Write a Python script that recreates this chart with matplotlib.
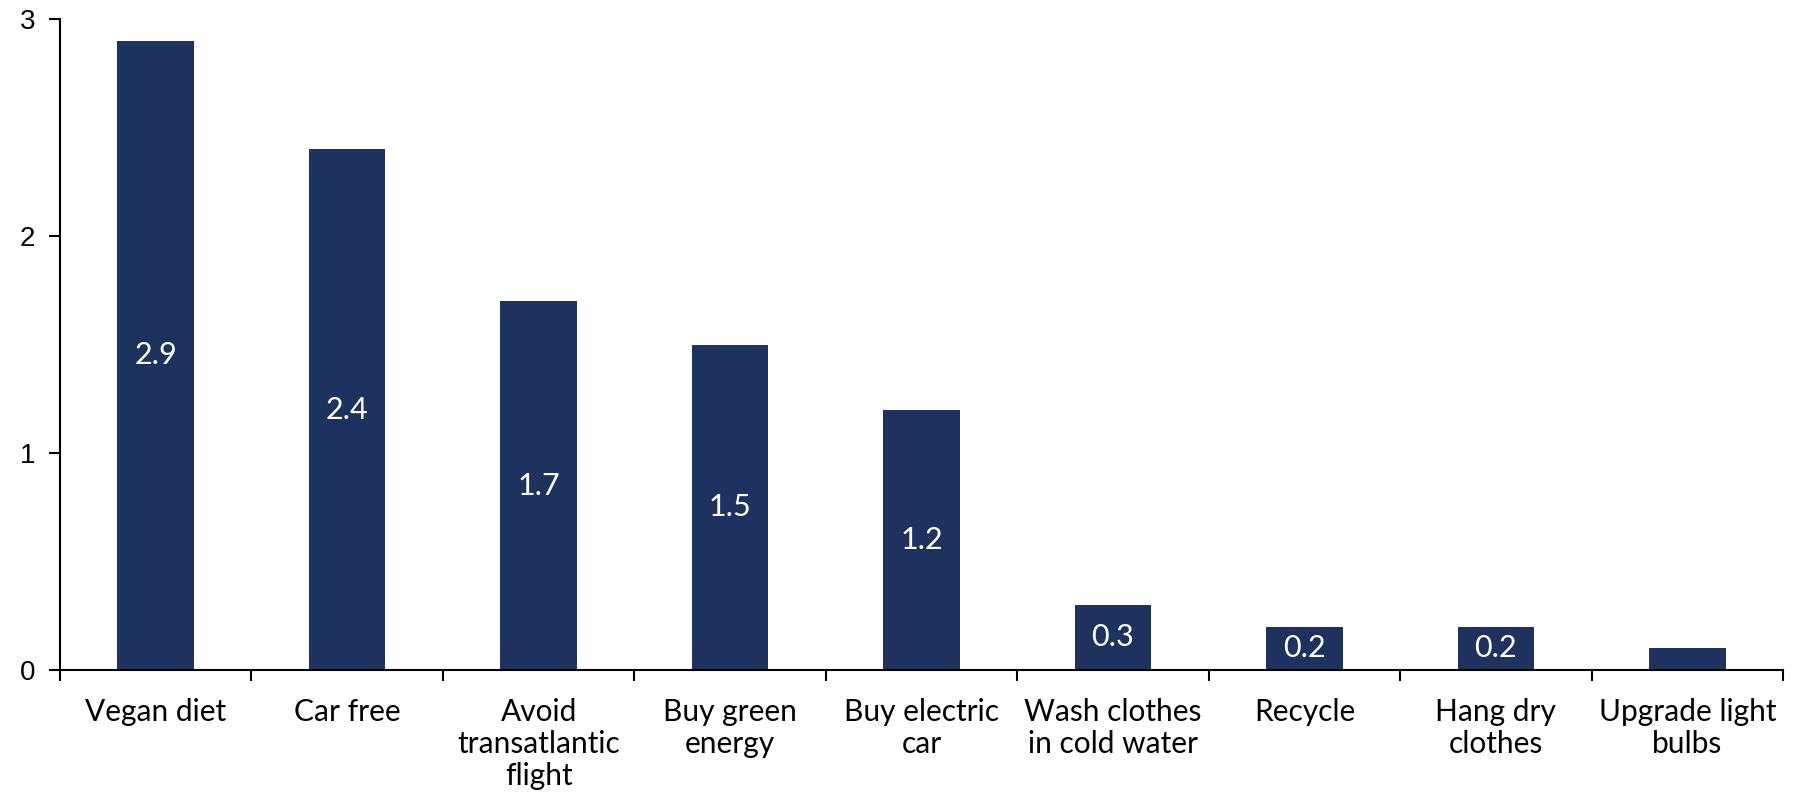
import numpy as np
import matplotlib
matplotlib.use('Agg')
import matplotlib.pyplot as plt
from matplotlib.ticker import FixedLocator

# 数据
categories = ['Vegan diet', 'Car free', 'Avoid\ntransatlantic\nflight',
              'Buy green\nenergy', 'Buy electric\ncar', 'Wash clothes\nin cold water',
              'Recycle', 'Hang dry\nclothes', 'Upgrade light\nbulbs']
values = [2.9, 2.4, 1.7, 1.5, 1.2, 0.3, 0.2, 0.2, 0.1]
value_labels = ['2.9', '2.4', '1.7', '1.5', '1.2', '0.3', '0.2', '0.2', '']
y_ticks = [0, 1, 2, 3]

BAR_COLOR = '#1D325E'

fig = plt.figure(figsize=(17.99, 7.98), dpi=100)
ax = fig.add_axes([60 / 1799, 128 / 798, 1723 / 1799, 651 / 798])

x = np.arange(len(categories))
bars = ax.bar(x, values, width=0.4, color=BAR_COLOR, zorder=2)

# 柱内数值
for xi, v, lab in zip(x, values, value_labels):
    if lab:
        ax.text(xi, v / 2, lab, ha='center', va='center', color='white',
                fontsize=22, family='Lato')

ax.set_xlim(-0.5, len(categories) - 0.5)
ax.set_ylim(0, 3)

# x 轴：标签居中，刻度在类别分界
ax.set_xticks(x)
ax.set_xticklabels(categories, family='Lato', fontsize=21.5, linespacing=1.17)
ax.tick_params(axis='x', which='major', length=0, pad=20)
ax.xaxis.set_minor_locator(FixedLocator(np.arange(-0.5, len(categories), 1.0)))
ax.tick_params(axis='x', which='minor', length=8, width=1.5, direction='out')

# y 轴
ax.set_yticks(y_ticks)
ax.set_yticklabels([str(t) for t in y_ticks], family='Liberation Sans', fontsize=20)
ax.tick_params(axis='y', length=8, width=1.5, pad=10)

for side in ['top', 'right']:
    ax.spines[side].set_visible(False)
for side in ['left', 'bottom']:
    ax.spines[side].set_linewidth(1.5)

plt.savefig('out.png', dpi=100, facecolor='white')
plt.close(fig)
